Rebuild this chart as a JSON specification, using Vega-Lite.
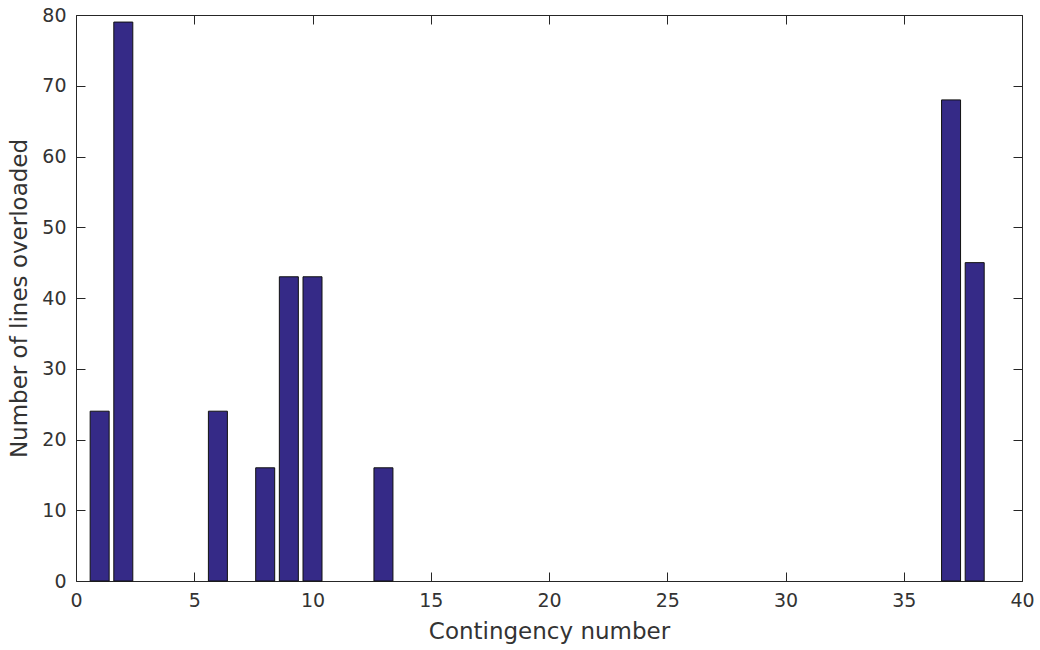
{
  "$schema": "https://vega.github.io/schema/vega-lite/v6.json",
  "autosize": {"type": "none"},
  "padding": {"left": 76, "top": 15, "right": 18, "bottom": 69},
  "width": 946,
  "height": 566,
  "background": "white",
  "data": {"values": [
    {"contingency": 1, "lines": 24},
    {"contingency": 2, "lines": 79},
    {"contingency": 6, "lines": 24},
    {"contingency": 8, "lines": 16},
    {"contingency": 9, "lines": 43},
    {"contingency": 10, "lines": 43},
    {"contingency": 13, "lines": 16},
    {"contingency": 37, "lines": 68},
    {"contingency": 38, "lines": 45}
  ]},
  "config": {
    "view": {"stroke": null},
    "axis": {
      "grid": false,
      "labelFlush": false,
      "domainColor": "#262626",
      "domainWidth": 1,
      "tickColor": "#262626",
      "tickSize": -9,
      "labelFont": "DejaVu Sans",
      "labelFontSize": 19,
      "labelColor": "#333333",
      "titleFont": "DejaVu Sans",
      "titleFontSize": 23,
      "titleFontWeight": "normal",
      "titleColor": "#333333"
    }
  },
  "layer": [
    {
      "mark": {"type": "bar", "width": 19, "color": "#352a87", "stroke": "#111111", "strokeWidth": 1},
      "encoding": {
        "x": {"field": "contingency", "type": "quantitative",
              "scale": {"domain": [0, 40], "nice": false, "zero": false, "padding": 0},
              "axis": {"orient": "bottom", "values": [0,5,10,15,20,25,30,35,40], "title": "Contingency number", "labelPadding": 19, "titlePadding": 10}},
        "y": {"field": "lines", "type": "quantitative",
              "scale": {"domain": [0, 80], "nice": false, "padding": 0},
              "axis": {"orient": "left", "values": [0,10,20,30,40,50,60,70,80], "title": "Number of lines overloaded", "labelPadding": 19, "titlePadding": 10}}
      }
    },
    {
      "mark": {"type": "bar", "width": 19, "opacity": 0},
      "encoding": {
        "x": {"field": "contingency", "type": "quantitative",
              "axis": {"orient": "top", "values": [0,5,10,15,20,25,30,35,40], "labels": false, "title": null}},
        "y": {"field": "lines", "type": "quantitative",
              "axis": {"orient": "right", "values": [0,10,20,30,40,50,60,70,80], "labels": false, "title": null}}
      }
    }
  ],
  "resolve": {"axis": {"x": "independent", "y": "independent"}}
}
